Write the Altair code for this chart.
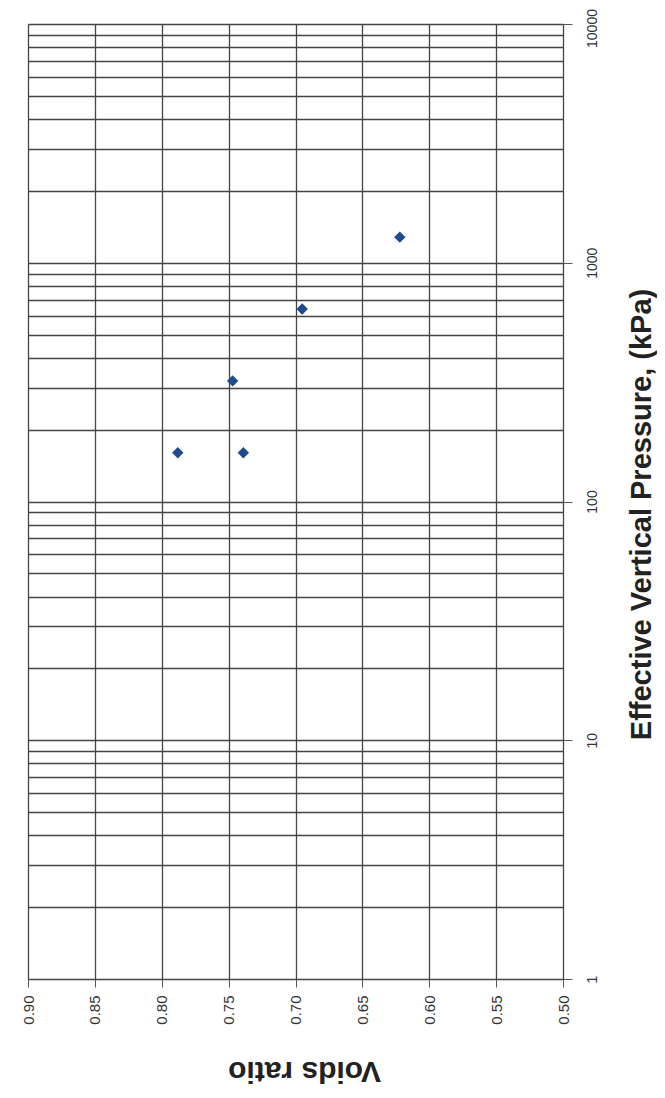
import altair as alt
import pandas as pd

# Data (oedometer points)
pressure_kpa = [160, 160, 320, 640, 1280]
voids_ratio = [0.788, 0.739, 0.747, 0.695, 0.622]

voids_ticks = [0.50, 0.55, 0.60, 0.65, 0.70, 0.75, 0.80, 0.85, 0.90]
pressure_grid = [m * 10 ** d for d in range(0, 4) for m in range(1, 10)] + [10000]

df = pd.DataFrame({"pressure": pressure_kpa, "voids": voids_ratio})

is_major = "abs(log(datum.value)/LN10 - round(log(datum.value)/LN10)) < 1e-6"

FONT = "Liberation Sans"

chart = (
    alt.Chart(df)
    .mark_point(shape="diamond", filled=True, size=130, color="#1f4b8e", opacity=1)
    .encode(
        x=alt.X(
            "voids:Q",
            scale=alt.Scale(domain=[0.5, 0.9], reverse=True, nice=False, zero=False),
            axis=alt.Axis(
                orient="bottom",
                values=voids_ticks,
                format=".2f",
                title="Voids ratio",
                titleAngle=180,
                titleBaseline="bottom",
                titleAlign="center",
                titleFontSize=30,
                titleFont=FONT,
                titleFontWeight="bold",
                titleColor="#222222",
                titlePadding=31,
                titleX=276,
                labelAngle=-90,
                labelAlign="right",
                labelBaseline="middle",
                labelFontSize=15,
                labelFont=FONT,
                labelColor="#333333",
                labelPadding=8,
                labelFlush=False,
                labelOverlap=False,
                tickSize=8,
                tickColor="#555555",
                gridColor="#454545",
                gridWidth=1.3,
                domain=False,
            ),
        ),
        y=alt.Y(
            "pressure:Q",
            scale=alt.Scale(type="log", domain=[1, 10000], nice=False),
            axis=alt.Axis(
                orient="right",
                values=pressure_grid,
                format="d",
                labelExpr=f"({is_major}) ? datum.label : ''",
                title="Effective Vertical Pressure, (kPa)",
                titleAngle=270,
                titleBaseline="top",
                titleAlign="center",
                titleFontSize=29,
                titleFont=FONT,
                titleFontWeight="bold",
                titleColor="#222222",
                titleX=64,
                titleY=490,
                labelAngle=-90,
                labelAlign="center",
                labelBaseline="top",
                labelFontSize=14,
                labelFont=FONT,
                labelColor="#333333",
                labelPadding=13,
                labelFlush=False,
                labelOverlap=False,
                labelOffset={"condition": {"test": "datum.value >= 10000", "value": 4}, "value": 0},
                tickSize=9,
                tickColor="#555555",
                tickOpacity={"condition": {"test": is_major, "value": 1}, "value": 0},
                gridColor="#454545",
                gridWidth=1.3,
                domain=False,
            ),
        ),
    )
    .properties(
        width=535,
        height=955,
        autosize=alt.AutoSizeParams(type="none"),
        padding={"left": 20, "top": 16, "right": 94, "bottom": 109},
    )
    .configure_view(fill="#d9d8d5", stroke="#444444", strokeWidth=1.5)
    .configure(background="white")
)

chart.save("out.html", embed_options={"renderer": "svg", "actions": False})
